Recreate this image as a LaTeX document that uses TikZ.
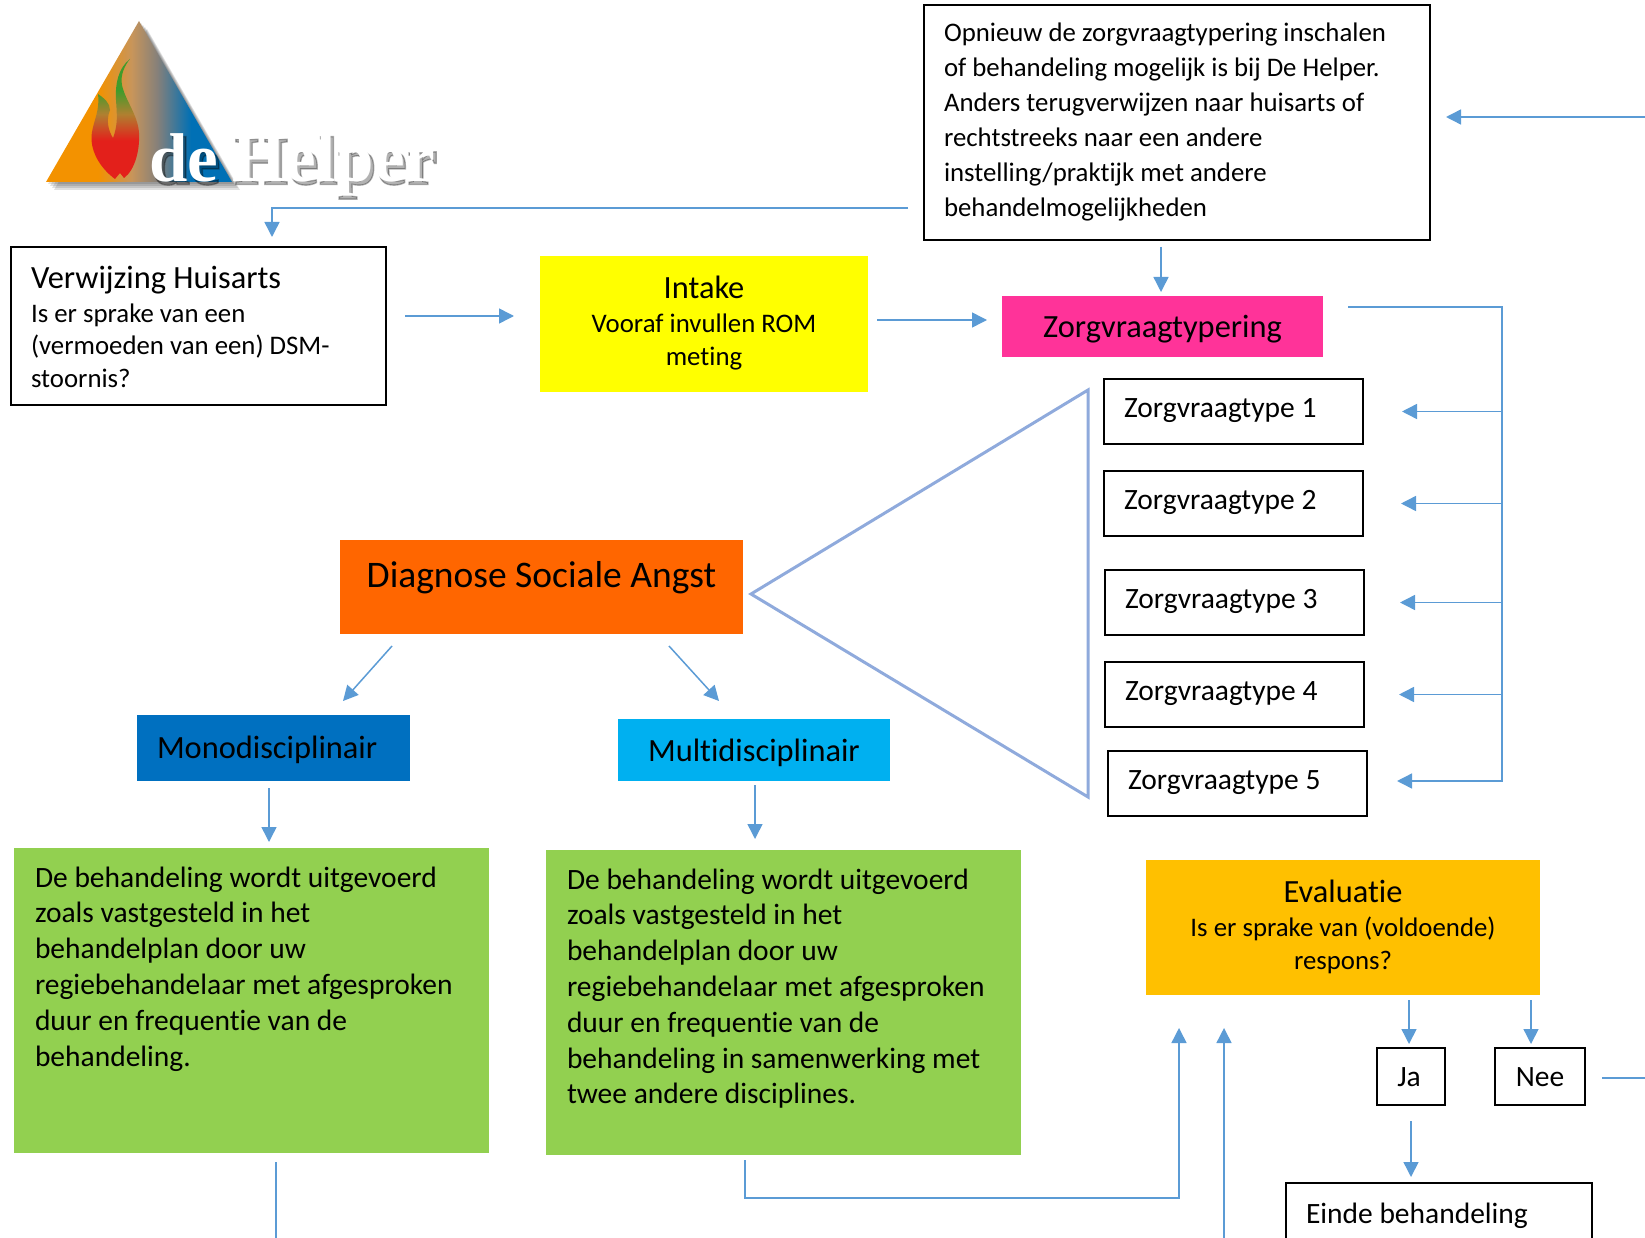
\documentclass[tikz,border=0pt]{standalone}
\usepackage{fontspec}
\setmainfont[Ligatures=NoCommon]{Carlito}
\newfontfamily\logofont{Liberation Serif}
\newfontfamily\logoschaduw[BoldFeatures={FakeBold=2}]{Liberation Serif}
\usetikzlibrary{arrows.meta}
\definecolor{pijlblauw}{HTML}{5B9BD5}
\definecolor{driehoekblauw}{HTML}{8FAADC}
\definecolor{geel}{RGB}{255,255,0}
\definecolor{roze}{HTML}{FF3399}
\definecolor{oranje}{HTML}{FF6600}
\definecolor{monoblauw}{HTML}{0070C0}
\definecolor{multiblauw}{HTML}{00B0F0}
\definecolor{groen}{HTML}{92D050}
\definecolor{goud}{HTML}{FFC000}
\definecolor{logooranje}{HTML}{F39200}
\definecolor{logotan}{HTML}{C8955A}
\definecolor{logogrijs}{HTML}{85807A}
\definecolor{logoblauw}{HTML}{0070B5}
\definecolor{vlamrood}{HTML}{E3201B}
\definecolor{vlammidden}{HTML}{B08030}
\definecolor{vlamgroen}{HTML}{3F9C2B}
\pgfdeclarehorizontalshading{logotint}{100bp}{color(0bp)=(logooranje);color(39bp)=(logooranje);color(48bp)=(logotan);color(55bp)=(logogrijs);color(64bp)=(logoblauw);color(100bp)=(logoblauw)}
\pgfdeclareverticalshading{vlamtint}{100bp}{color(0bp)=(vlamrood);color(41bp)=(vlamrood);color(52bp)=(vlammidden);color(62bp)=(vlamgroen);color(100bp)=(vlamgroen)}
\newcommand{\kop}[1]{{\fontsize{32.4pt}{36pt}\selectfont #1}}
\tikzset{
>={Triangle[width=15pt,length=15pt]},
x=1pt,y=-1pt,
pijl/.style={->,color=pijlblauw,line width=1.5pt},
vak/.style={anchor=north west,inner xsep=20pt,inner ysep=0pt,outer sep=0pt,text=black},
omlijnd/.style={vak,draw=black,line width=1.2pt,align=flush left},
maat/.style n args={3}{minimum width=#1pt,text width=#1pt-40pt,text height=#3pt,text depth=#2pt-#3pt},
klein/.style={font=\fontsize{26.8pt}{32.6pt}\selectfont},
ruim/.style={font=\fontsize{26.8pt}{35pt}\selectfont},
midden/.style={font=\fontsize{29.5pt}{35.8pt}\selectfont},
groot/.style={font=\fontsize{32.4pt}{36pt}\selectfont},
groen vak/.style={vak,fill=groen,midden,align=flush left,inner xsep=21pt},
zorgtype/.style={omlijnd,midden,maat={259}{65}{38.5}},
logoletters/.style={inner sep=0pt,anchor=base west}}

\begin{document}
\begin{tikzpicture}

\useasboundingbox (0,0) rectangle (1645,1238);
\clip (0,0) rectangle (1645,1238);

% logo
\foreach \s in {2,4,6,8}
  \fill[black,opacity=0.12] (139+\s,21+\s) -- (232+\s,182+\s) -- (46+\s,182+\s) -- cycle;
\shade[shading=logotint] (139,21) -- (232,182) -- (46,182) -- cycle;
\shade[shading=vlamtint] (130,59) .. controls (118,68) and (115,85) .. (116,100)
  .. controls (117,115) and (118,125) .. (113,138)
  .. controls (108,130) and (106,120) .. (110,110)
  .. controls (110,103) and (104,98) .. (98,94)
  .. controls (100,110) and (94,120) .. (92,132)
  .. controls (89,150) and (100,168) .. (115,179)
  -- (120,173) -- (124,178)
  .. controls (135,170) and (140,150) .. (139,133)
  .. controls (138,115) and (125,100) .. (122,85)
  .. controls (120,75) and (125,65) .. (130,59) -- cycle;
\node (logoschaduw) [logoletters,text=black,opacity=0.3,font=\logoschaduw\bfseries\fontsize{69pt}{69pt}\selectfont] at (151.5,184.5) {de\hspace{14pt}Helper};
\node (logo) [logoletters,text=white,font=\logofont\bfseries\fontsize{69pt}{69pt}\selectfont] at (149,182) {de\hspace{14pt}Helper};

% vakken
\node (opnieuw) [omlijnd,ruim,maat={506}{235}{37}] at (924,5) {Opnieuw de zorgvraagtypering inschalen\\of behandeling mogelijk is bij De Helper.\\Anders terugverwijzen naar huisarts of\\rechtstreeks naar een andere\\instelling/praktijk met andere\\behandelmogelijkheden};
\node (verwijzing) [omlijnd,klein,maat={375}{158}{41.5}] at (11,247) {\kop{Verwijzing Huisarts}\\[1pt]Is er sprake van een\\(vermoeden van een) DSM-\\stoornis?};
\node (intake) [vak,fill=geel,klein,align=flush center,maat={328}{136}{43}] at (540,256) {\kop{Intake}\\[1pt]Vooraf invullen ROM\\meting};
\node (zorg) [vak,fill=roze,groot,align=flush center,maat={321}{61}{41.5}] at (1002,296) {Zorgvraagtypering};

\node (type1) [zorgtype] at (1104,379) {Zorgvraagtype 1};
\node (type2) [zorgtype] at (1104,471) {Zorgvraagtype 2};
\node (type3) [zorgtype] at (1105,570) {Zorgvraagtype 3};
\node (type4) [zorgtype] at (1105,662) {Zorgvraagtype 4};
\node (type5) [zorgtype] at (1108,751) {Zorgvraagtype 5};

\node (diagnose) [vak,fill=oranje,align=flush center,font=\fontsize{37.5pt}{40pt}\selectfont,maat={403}{94}{47}] at (340,540) {Diagnose Sociale Angst};
\node (mono) [vak,fill=monoblauw,align=flush left,groot,maat={273}{66}{43}] at (137,715) {Monodisciplinair};
\node (multi) [vak,fill=multiblauw,align=flush center,groot,maat={272}{62}{42}] at (618,719) {Multidisciplinair};

\node (groen1) [groen vak,maat={473}{305}{39}] at (14,848) {De behandeling wordt uitgevoerd\\zoals vastgesteld in het\\behandelplan door uw\\regiebehandelaar met afgesproken\\duur en frequentie van de\\behandeling.};
\node (groen2) [groen vak,maat={473}{305}{39}] at (546,850) {De behandeling wordt uitgevoerd\\zoals vastgesteld in het\\behandelplan door uw\\regiebehandelaar met afgesproken\\duur en frequentie van de\\behandeling in samenwerking met\\twee andere disciplines.};

\node (evaluatie) [vak,fill=goud,klein,align=flush center,maat={394}{135}{42}] at (1146,860) {\kop{Evaluatie}\\[2pt]Is er sprake van (voldoende)\\respons?};
\node (ja) [omlijnd,midden,align=flush center,maat={68}{57}{38},inner xsep=0pt,text width=68pt] at (1377,1048) {Ja\kern4pt};
\node (nee) [omlijnd,midden,align=flush center,maat={90}{57}{38},inner xsep=0pt,text width=90pt] at (1495,1048) {Nee};
\node (einde) [omlijnd,midden,maat={306}{100}{40}] at (1286,1183) {Einde behandeling};

\draw[driehoekblauw,line width=3pt] (751,594) -- (1088,390) -- (1088,797) -- cycle;

% vrije einden
\coordinate (rechtsboven) at (1645,117);
\coordinate (railboven) at (1502,307);
\coordinate (railonder) at (1502,781);
\coordinate (neeuit) at (1645,1078);
\coordinate (groen1uit) at (276,1238);
\coordinate (hoeklinks) at (745,1198);
\coordinate (hoekrechts) at (1179,1198);
\coordinate (onderrand) at (1224,1238);

\draw[pijl] ([xshift=-16pt,yshift=-85.5pt]opnieuw.west) -| ([xshift=73.5pt,yshift=10pt]verwijzing.north);
\path[pijl] (rechtsboven) edge ([xshift=16pt,yshift=5.5pt]opnieuw.east);
\path[pijl] ([yshift=10pt]verwijzing.east) edge[shorten <=19pt,shorten >=26pt] ([yshift=8pt]intake.west);
\path[pijl] ([yshift=4pt]intake.east) edge[shorten <=9pt,shorten >=15pt] ([yshift=6.5pt]zorg.west);
\path[pijl] ([xshift=-16pt]opnieuw.south) edge[shorten <=7pt,shorten >=4pt] ([xshift=-1.5pt]zorg.north);

\draw[pijl,shorten <=25pt,shorten >=30pt] ([yshift=19.5pt]zorg.east) -- (railboven) -- (railonder) -- ([yshift=2.5pt]type5.east);
\path[pijl] (railboven |- type1.east) edge[shorten >=39pt] (type1.east);
\path[pijl] (railboven |- type2.east) edge[shorten >=38pt] (type2.east);
\path[pijl] (railboven |- type3.east) edge[shorten >=36pt] (type3.east);
\path[pijl] (railboven |- type4.east) edge[shorten >=35pt] (type4.east);

\path[pijl] ([xshift=-149.5pt,yshift=-12pt]diagnose.south) edge ([xshift=69.5pt,yshift=14pt]mono.north);
\path[pijl] ([xshift=127.5pt,yshift=-12pt]diagnose.south) edge ([xshift=-35pt,yshift=18pt]multi.north);
\path[pijl] ([xshift=-4.5pt,yshift=-7pt]mono.south) edge ([xshift=17.5pt,yshift=6pt]groen1.north);
\path[pijl] ([xshift=1pt,yshift=-4pt]multi.south) edge ([xshift=-28.5pt,yshift=11pt]groen2.north);

\path[pijl,-] ([xshift=24.5pt,yshift=-9pt]groen1.south) edge (groen1uit);
\draw[pijl] ([xshift=-38.5pt,yshift=-5pt]groen2.south) -- (hoeklinks) -- (hoekrechts) -- ([xshift=-164pt,yshift=-33pt]evaluatie.south);
\path[pijl] (onderrand) edge ([xshift=-119pt,yshift=-33pt]evaluatie.south);

\path[pijl] ([xshift=66pt,yshift=-5pt]evaluatie.south) edge ([xshift=-2pt,yshift=4pt]ja.north);
\path[pijl] ([xshift=188pt,yshift=-5pt]evaluatie.south) edge ([xshift=-9pt,yshift=4pt]nee.north);
\path[pijl] ([yshift=-16pt]ja.south) edge ([xshift=-28pt,yshift=6pt]einde.north);
\path[pijl,-] ([xshift=17pt,yshift=-1.5pt]nee.east) edge (neeuit);

\end{tikzpicture}
\end{document}
